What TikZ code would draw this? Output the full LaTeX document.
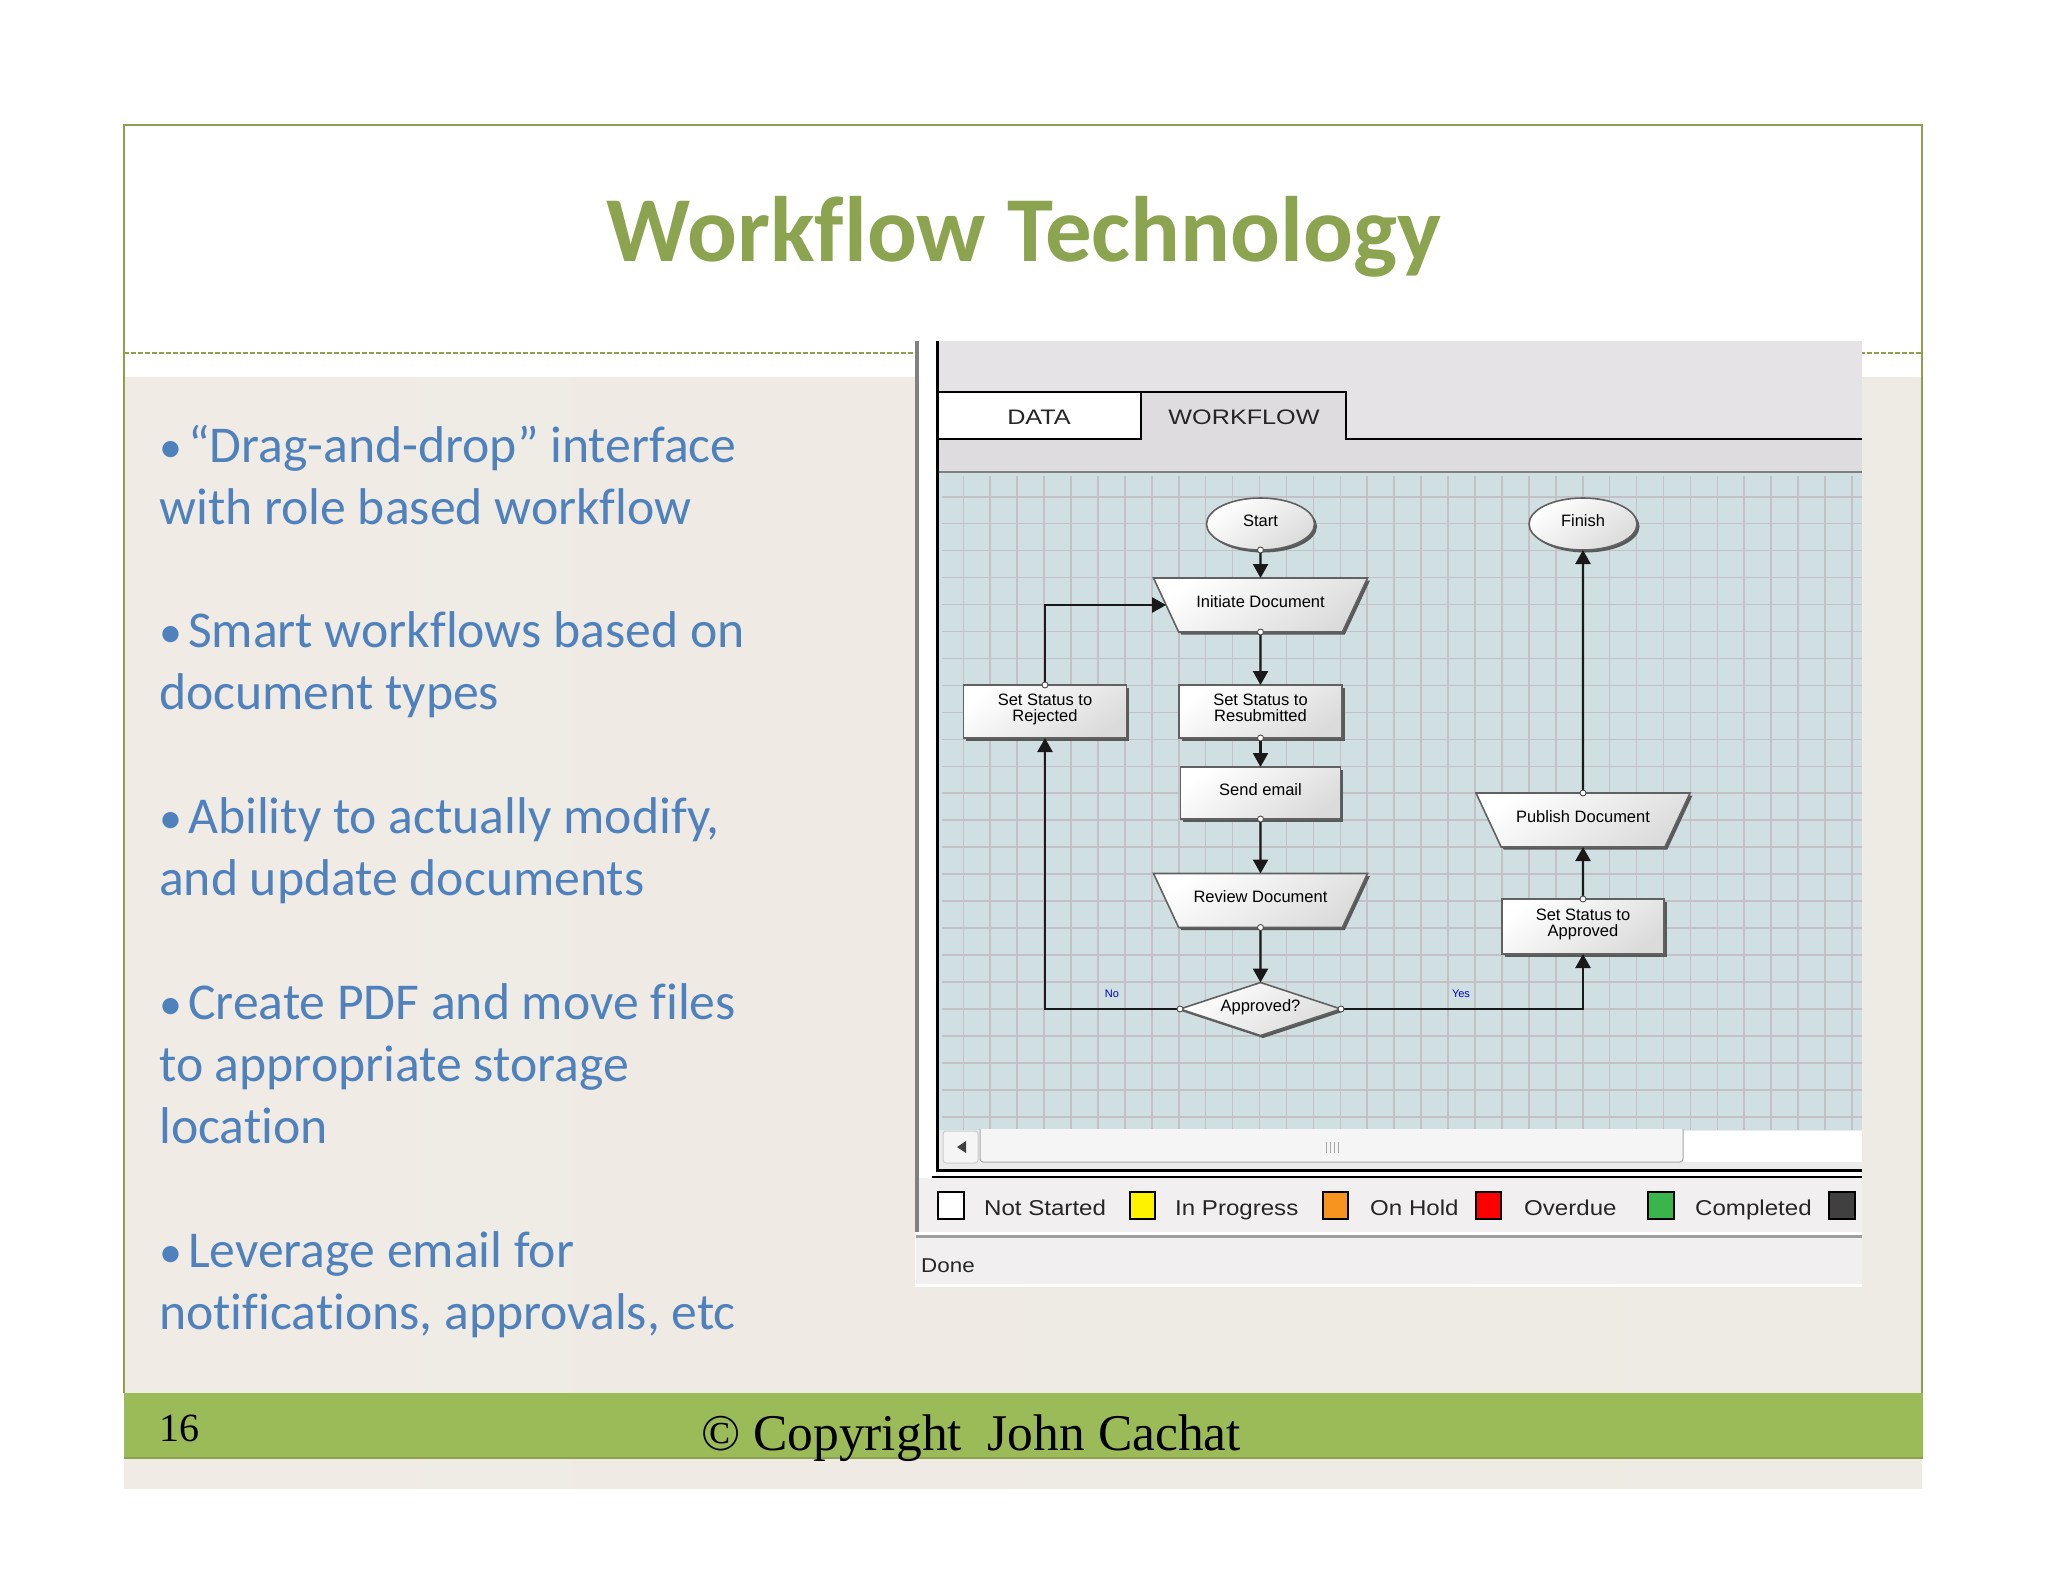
\documentclass[tikz,border=0pt]{standalone}
\usepackage{fontspec}
\usetikzlibrary{shapes.geometric,arrows.meta,shadows}
\setmainfont[Ligatures=NoCommon]{Carlito}
\newfontfamily\uifont[FakeStretch=1.12]{Liberation Sans}
\newfontfamily\tabfont[FakeStretch=1.2]{Liberation Sans}
\newfontfamily\flowfont{Liberation Sans}
\newfontfamily\footfont{Liberation Serif}
\newcommand{\slidebullet}{{\fontsize{46}{62}\selectfont •}\hspace{6pt}}
\definecolor{frameol}{HTML}{8F9F50}
\definecolor{slideleft}{HTML}{F0EBE5}
\definecolor{slideright}{HTML}{EDEBE3}
\definecolor{bandgreen}{HTML}{9BBB59}
\definecolor{titlegreen}{HTML}{8CA350}
\definecolor{bodyblue}{HTML}{4F81BD}
\definecolor{panelgray}{HTML}{E5E3E6}
\definecolor{tabgray}{HTML}{DEDCDF}
\definecolor{gridbg}{HTML}{CFDFE2}
\definecolor{gridline}{HTML}{C3C0C6}
\definecolor{legendbg}{HTML}{F1EFEF}
\tikzset{
  flowbase/.style={draw=black!62,line width=1.6pt,top color=white,bottom color=black!14,shading angle=35,
    drop shadow={shadow xshift=2.5pt,shadow yshift=-2.5pt,fill=black!65,opacity=1},
    inner sep=0pt,outer sep=0pt,align=center,font=\flowfont\fontsize{16.5}{16}\selectfont,
    execute at end node={\rule[-7pt]{0pt}{0pt}}},
  flowrect/.style={flowbase,rectangle,minimum width=#1,minimum height=53pt},
  flowtrap/.style={flowbase,trapezium,trapezium stretches body=true,shape border rotate=180,
    trapezium angle=37,minimum width=#1,minimum height=54pt},
  flowell/.style={flowbase,ellipse,minimum width=108pt,minimum height=52pt},
  flowdec/.style={flowbase,diamond,aspect=3,minimum width=161pt,minimum height=53pt},
  link/.style={line width=2.4pt,draw=black!90,-{Triangle[length=14pt,width=15pt]}},
  port/.style={circle,draw=black!70,fill=white,line width=.9pt,minimum size=6pt,inner sep=0pt,outer sep=0pt},
  bullet/.style={anchor=north west,align=left,inner sep=0pt,text=bodyblue,font=\fontsize{51.7}{62}\selectfont},
  legendbox/.style={draw=black,line width=1.6pt},
  legendtext/.style={anchor=base west,inner sep=0pt,font=\uifont\fontsize{21.5}{24}\selectfont,text=black!85},
  flag/.style={text=blue!75!black,inner sep=0pt,font=\flowfont\fontsize{11}{12}\selectfont}
}
\begin{document}
\begin{tikzpicture}[x=1pt,y=-1pt]
\useasboundingbox (0,0) rectangle (2048,1582);
\fill[white] (0,0) rectangle (2048,1582);
% slide
\shade[left color=slideleft,right color=slideright] (124,377) rectangle (1922,1488);
\draw[frameol,line width=1.6pt] (124,1393) -- (124,125) -- (1922,125) -- (1922,1393);
\draw[frameol,line width=1.2pt,dash pattern=on 5pt off 2pt] (124,353) -- (1922,353);
\fill[bandgreen] (124,1393) rectangle (1923,1458);
\draw[frameol,line width=1.4pt] (124,1458) -- (1923,1458);
\node[inner sep=0pt,text=titlegreen,font=\bfseries\fontsize{92.9}{100}\selectfont] (title) at (1024,237) {Workflow Technology};
\node[bullet] (b1) at (159,425) {\slidebullet “Drag-and-drop” interface\\with role based workflow};
\node[bullet] (b2) at (159,611) {\slidebullet Smart workflows based on\\document types};
\node[bullet] (b3) at (159,797) {\slidebullet Ability to actually modify,\\and update documents};
\node[bullet] (b4) at (159,983) {\slidebullet Create PDF and move files\\to appropriate storage\\location};
\node[bullet] (b5) at (159,1231) {\slidebullet Leverage email for\\notifications, approvals, etc};
\node[anchor=base west,inner sep=0pt,font=\footfont\fontsize{40}{44}\selectfont] (pagenum) at (159,1441) {16};
\node[anchor=base west,inner sep=0pt,font=\footfont\fontsize{51.5}{54}\selectfont] (copy) at (701,1450) {© Copyright\ \ John Cachat};
% screenshot
\fill[white] (915,341) rectangle (1862,1287);
\fill[black!50] (915,341) rectangle (919,1232);
\fill[panelgray] (938,341) rectangle (1862,439);
\fill[tabgray] (938,439) rectangle (1862,472);
\fill[black!50] (938,471) rectangle (1862,473);
\fill[gridbg] (939,473) rectangle (1862,1130);
\begin{scope}
\clip (939,473) rectangle (1862,1130);
\foreach \k in {0,...,33} \draw[gridline,line width=1.6pt] ({963.3+26.93*\k},476) -- ({963.3+26.93*\k},1130);
\foreach \k in {0,...,23} \draw[gridline,line width=1.6pt] (942,{496.7+26.96*\k}) -- (1862,{496.7+26.96*\k});
\end{scope}
% tabs
\fill[white] (937,392) rectangle (1141,439);
\fill[tabgray] (1141,392) rectangle (1346,439);
\draw[black,line width=2.2pt] (937,439) -- (1141,439) -- (1141,392);
\draw[black,line width=2.2pt] (937,392) -- (1346,392) -- (1346,439) -- (1862,439);
\draw[black,line width=3pt] (937,341) -- (937,1170) -- (1862,1170);
\node[inner sep=0pt,font=\tabfont\fontsize{21}{24}\selectfont,text=black!85] (tabdata) at (1039,417) {DATA};
\node[inner sep=0pt,font=\tabfont\fontsize{21}{24}\selectfont,text=black!85] (tabflow) at (1244,417) {WORKFLOW};
% scrollbar
\fill[black!8] (939,1130) rectangle (1862,1168.5);
\fill[white] (980,1131) rectangle (1862,1162);
\draw[draw=black!35,fill=black!4,line width=1pt,rounded corners=3pt] (980,1129) -- (980,1162) -- (1683,1162) -- (1683,1129);
\draw[draw=black!20,fill=black!4,line width=1pt,rounded corners=3pt] (943,1131) rectangle (978,1163);
\fill[black!75] (957,1147) -- (966,1141) -- (966,1153) -- cycle;
\foreach \gx in {1326,1330,1334,1338} \draw[black!35,line width=1pt] (\gx,1142) -- (\gx,1153);
% legend
\fill[legendbg] (919,1178) rectangle (1862,1232);
\draw[black,line width=2pt] (932,1177) -- (1862,1177);
\fill[black!38] (916,1234.5) rectangle (1862,1237.5);
\fill[legendbg] (916,1237.5) rectangle (1862,1284);
\draw[legendbox,fill=white] (938,1192) rectangle (964,1219);
\draw[legendbox,fill=yellow] (1130,1192) rectangle (1155,1219);
\draw[legendbox,fill={rgb,255:red,247;green,148;blue,30}] (1323,1192) rectangle (1348,1219);
\draw[legendbox,fill=red] (1476,1192) rectangle (1501,1219);
\draw[legendbox,fill={rgb,255:red,57;green,181;blue,74}] (1648,1192) rectangle (1674,1219);
\draw[legendbox,fill=black!75] (1829,1192) rectangle (1855,1219);
\node[legendtext] (ln) at (984,1215) {Not Started};
\node[legendtext] (li) at (1175,1215) {In Progress};
\node[legendtext] (lo) at (1370,1215) {On Hold};
\node[legendtext] (lv) at (1524,1215) {Overdue};
\node[legendtext] (lc) at (1695,1215) {Completed};
\node[legendtext,font=\uifont\fontsize{20}{24}\selectfont] (done) at (921,1272) {Done};
% flow nodes
\node[flowell] (start) at (1260.5,524) {Start};
\node[flowell] (finish) at (1583,524) {Finish};
\node[flowtrap=214pt] (init) at (1260.5,605) {Initiate Document};
\node[flowrect=163pt] (rej) at (1045,711.5) {Set Status to\\Rejected};
\node[flowrect=163pt] (resub) at (1260.5,711.5) {Set Status to\\Resubmitted};
\node[flowrect=160pt,minimum height=52pt] (send) at (1260.5,793) {Send email};
\node[flowtrap=214pt] (review) at (1260.5,900.5) {Review Document};
\node[flowdec] (appr) at (1260.5,1009) {Approved?};
\node[flowtrap=214pt] (publish) at (1583,820) {Publish Document};
\node[flowrect=162pt,minimum height=55pt] (appset) at (1583,926.5) {Set Status to\\Approved};
% connectors
\draw[link] (start.south) -- (init.north);
\draw[link] (init.south) -- (resub.north);
\draw[link] (resub.south) -- (send.north);
\draw[link] (send.south) -- (review.north);
\draw[link] (review.south) -- (appr.north);
\draw[link] (appr.west) -| (rej.south);
\draw[link] (rej.north) |- (init.west);
\draw[link] (appr.east) -| (appset.south);
\draw[link] (appset.north) -- (publish.south);
\draw[link] (publish.north) -- (finish.south);
\foreach \a/\b in {start.south/pa,init.south/pb,resub.south/pc,send.south/pd,review.south/pe,appr.west/pf,appr.east/pg,rej.north/ph,appset.north/pi,publish.north/pj}
  \node[port] (\b) at (\a) {};
\node[flag] (lno) at (1112,994) {No};
\node[flag] (lyes) at (1461,994) {Yes};
\end{tikzpicture}
\end{document}
